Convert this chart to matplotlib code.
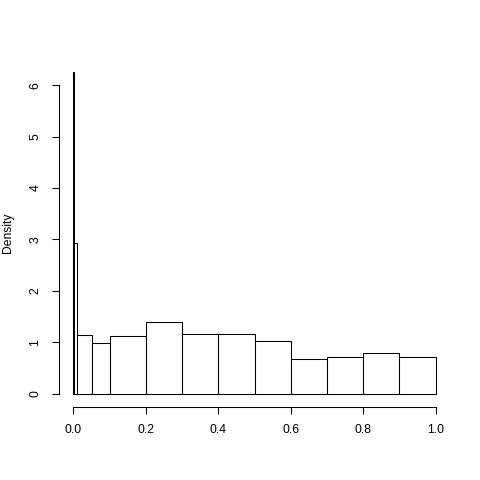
import matplotlib
matplotlib.use("Agg")
import matplotlib.pyplot as plt
import numpy as np

breaks = [0.0, 0.001, 0.01, 0.05, 0.1, 0.2, 0.3, 0.4, 0.5, 0.6, 0.7, 0.8, 0.9, 1.0]
density = [6.26, 2.93, 1.14, 0.98, 1.12, 1.40, 1.16, 1.17, 1.03, 0.68, 0.705, 0.80, 0.705]
xticks = [0.0, 0.2, 0.4, 0.6, 0.8, 1.0]
xticklabels = ["0.0", "0.2", "0.4", "0.6", "0.8", "1.0"]
yticks = [0, 1, 2, 3, 4, 5, 6]

plt.rcParams['font.family'] = ['Liberation Sans', 'DejaVu Sans']
fig = plt.figure(figsize=(4.8, 4.8), dpi=100)
ax = fig.add_axes([59/480, 73.4/480, 391/480, 347.6/480])

lefts = np.array(breaks[:-1])
widths = np.diff(breaks)
ax.bar(lefts, density, width=widths, align='edge', color='white',
       edgecolor='black', linewidth=0.75)

ymax = max(density)
ax.set_xlim(-0.04, 1.04)
ax.set_ylim(-0.04 * ymax, 1.04 * ymax)

for s in ['top', 'right']:
    ax.spines[s].set_visible(False)
ax.spines['left'].set_bounds(0, 6)
ax.spines['bottom'].set_bounds(0, 1)
ax.spines['left'].set_linewidth(0.75)
ax.spines['bottom'].set_linewidth(0.75)

ax.set_xticks(xticks)
ax.set_xticklabels(xticklabels)
ax.set_yticks(yticks)
ax.set_yticklabels([str(v) for v in yticks], rotation=90, va='center')
ax.tick_params(axis='both', length=5.2, width=0.75, labelsize=8.7)
ax.tick_params(axis='x', pad=7)
ax.tick_params(axis='y', pad=7.5)
ax.set_ylabel("Density", fontsize=8.7, labelpad=11)

fig.savefig("out.png", dpi=100)
